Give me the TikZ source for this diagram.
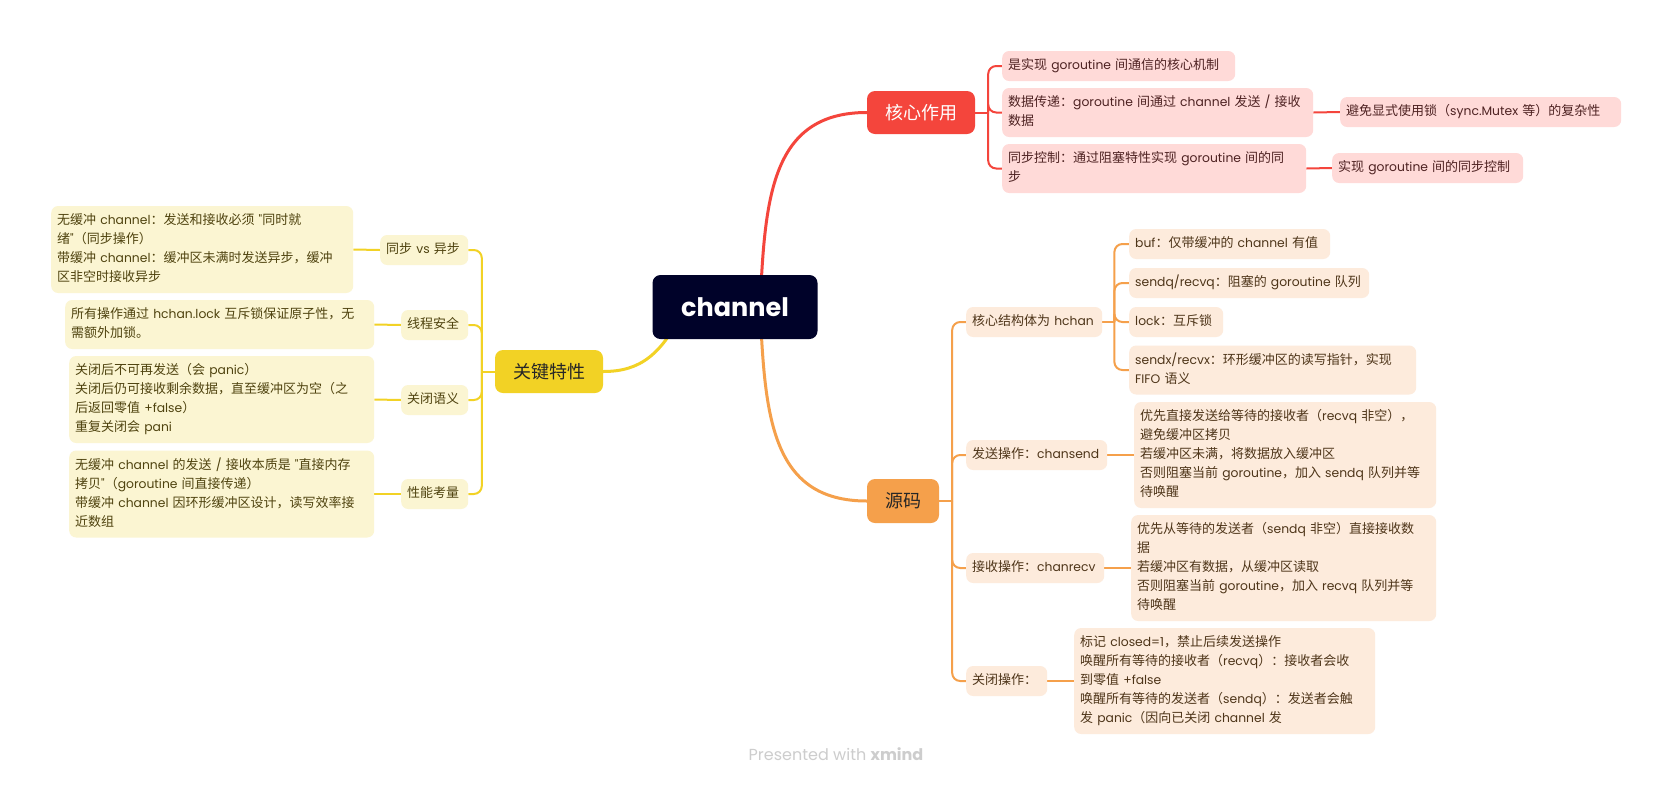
\documentclass[tikz,border=0pt]{standalone}
\usepackage{fontspec}
\setmainfont{Poppins}[Scale=0.95]
\newfontfamily\latfam{Poppins}[Scale=0.95]
\newfontfamily\cjkfam{Noto Sans CJK SC}
\newfontfamily\popfont{Poppins}
% switch to the CJK font for CJK characters
\newcount\cjkcc
\cjkcc="4E00 \loop \XeTeXcharclass\cjkcc=1 \advance\cjkcc 1 \ifnum\cjkcc<"A000 \repeat
\cjkcc="3000 \loop \XeTeXcharclass\cjkcc=1 \advance\cjkcc 1 \ifnum\cjkcc<"3040 \repeat
\cjkcc="FF00 \loop \XeTeXcharclass\cjkcc=1 \advance\cjkcc 1 \ifnum\cjkcc<"FFF0 \repeat
\XeTeXinterchartokenstate=1
\XeTeXinterchartoks 0 1 = {\cjkfam}
\XeTeXinterchartoks 4095 1 = {\cjkfam}
\XeTeXinterchartoks 1 0 = {\latfam}
\XeTeXinterchartoks 1 4095 = {\latfam}
\usetikzlibrary{calc,backgrounds}
\definecolor{navy}{HTML}{000229}
\definecolor{rmain}{HTML}{F4453C}
\definecolor{omain}{HTML}{F5A04B}
\definecolor{ymain}{HTML}{F2D225}
\definecolor{rfill}{HTML}{FFDAD8}
\definecolor{ofill}{HTML}{FDEBDC}
\definecolor{yfill}{HTML}{FBF5D2}
\definecolor{rtext}{HTML}{4E2222}
\definecolor{otext}{HTML}{4E3519}
\definecolor{ytext}{HTML}{4F430F}
\definecolor{wmark}{HTML}{CDCDCD}
\newcommand{\mytab}[1]{\begin{tabular}{@{}l@{}}#1\end{tabular}}
\tikzset{
  base/.style={rounded corners=7pt, inner xsep=6pt, inner ysep=5.5pt,
    font=\fontsize{13}{19}\selectfont, align=left, anchor=west},
  rleaf/.style={base, fill=rfill, text=rtext},
  oleaf/.style={base, fill=ofill, text=otext},
  yleaf/.style={base, fill=yfill, text=ytext},
  mainbox/.style={rounded corners=8pt, inner sep=0pt, font=\fontsize{18}{20}\selectfont},
  rsub/.style={draw=rmain, line width=2pt},
  osub/.style={draw=omain, line width=2pt},
  ysub/.style={draw=ymain, line width=2pt},
}
\begin{document}
\begin{tikzpicture}[x=1pt,y=-1pt]
\useasboundingbox (0,0) rectangle (1672,785);
% central and main branches
\node[mainbox, fill=navy, text=white, minimum width=165pt, minimum height=64pt,
  font=\popfont\bfseries\fontsize{25.5}{28}\selectfont] (ch) at (735,307) {channel};
\node[mainbox, fill=rmain, text=white, minimum width=108pt, minimum height=43pt] (core) at (921,112.5) {核心作用};
\node[mainbox, fill=omain, text=black!85, minimum width=72pt, minimum height=44pt] (src) at (903,501) {源码};
\node[mainbox, fill=ymain, text=black!85, minimum width=108pt, minimum height=43pt] (feat) at (549,371.5) {关键特性};

% red branch
\node[rleaf, text width=221pt] (r1) at (1002,66) {\mytab{是实现 goroutine 间通信的核心机制}};
\node[rleaf, text width=299pt] (r2) at (1002,112.5) {\mytab{数据传递：goroutine 间通过 channel 发送 / 接收\\数据}};
\node[rleaf, text width=292pt] (r3) at (1002,168.5) {\mytab{同步控制：通过阻塞特性实现 goroutine 间的同\\步}};
\node[rleaf, text width=269pt] (r4) at (1340,112) {\mytab{避免显式使用锁（sync.Mutex 等）的复杂性}};
\node[rleaf, text width=179pt] (r5) at (1332,168) {\mytab{实现 goroutine 间的同步控制}};

% orange branch
\node[oleaf, text width=124pt] (o1) at (966,322) {\mytab{核心结构体为 hchan}};
\node[oleaf, text width=189pt] (o11) at (1129,244) {\mytab{buf：仅带缓冲的 channel 有值}};
\node[oleaf, text width=228pt] (o12) at (1129,283) {\mytab{sendq/recvq：阻塞的 goroutine 队列}};
\node[oleaf, text width=82pt] (o13) at (1129,322) {\mytab{lock：互斥锁}};
\node[oleaf, text width=275pt] (o14) at (1129,370) {\mytab{sendx/recvx：环形缓冲区的读写指针，实现\\FIFO 语义}};
\node[oleaf, text width=129pt] (o2) at (966,455) {\mytab{发送操作：chansend}};
\node[oleaf, text width=290pt] (o21) at (1134,455) {\mytab{优先直接发送给等待的接收者（recvq 非空），\\避免缓冲区拷贝\\若缓冲区未满，将数据放入缓冲区\\否则阻塞当前 goroutine，加入 sendq 队列并等\\待唤醒}};
\node[oleaf, text width=126pt] (o3) at (966,568) {\mytab{接收操作：chanrecv}};
\node[oleaf, text width=293pt] (o31) at (1131,568) {\mytab{优先从等待的发送者（sendq 非空）直接接收数\\据\\若缓冲区有数据，从缓冲区读取\\否则阻塞当前 goroutine，加入 recvq 队列并等\\待唤醒}};
\node[oleaf, text width=69pt] (o4) at (966,681) {\mytab{关闭操作：}};
\node[oleaf, text width=289pt] (o41) at (1074,681) {\mytab{标记 closed=1，禁止后续发送操作\\唤醒所有等待的接收者（recvq）：接收者会收\\到零值 +false\\唤醒所有等待的发送者（sendq）：发送者会触\\发 panic（因向已关闭 channel 发}};

% yellow branch
\node[yleaf, text width=76pt] (y1) at (380,250) {\mytab{同步 vs 异步}};
\node[yleaf, text width=290pt] (y11) at (51,249.5) {\mytab{无缓冲 channel：发送和接收必须 "同时就\\绪"（同步操作）\\带缓冲 channel：缓冲区未满时发送异步，缓冲\\区非空时接收异步}};
\node[yleaf, text width=55pt] (y2) at (401,325) {\mytab{线程安全}};
\node[yleaf, text width=297pt] (y21) at (65,324.5) {\mytab{所有操作通过 hchan.lock 互斥锁保证原子性，无\\需额外加锁。}};
\node[yleaf, text width=55pt] (y3) at (401,400) {\mytab{关闭语义}};
\node[yleaf, text width=293pt] (y31) at (69,399.5) {\mytab{关闭后不可再发送（会 panic）\\关闭后仍可接收剩余数据，直至缓冲区为空（之\\后返回零值 +false）\\重复关闭会 pani}};
\node[yleaf, text width=55pt] (y4) at (401,494) {\mytab{性能考量}};
\node[yleaf, text width=293pt] (y41) at (69,494) {\mytab{无缓冲 channel 的发送 / 接收本质是 "直接内存\\拷贝"（goroutine 间直接传递）\\带缓冲 channel 因环形缓冲区设计，读写效率接\\近数组}};

\node[text=wmark, font=\popfont\fontsize{16}{18}\selectfont, inner sep=0pt] (pw) at (836,754) {Presented with \textbf{xmind}};

\begin{scope}[on background layer]
\fill[white] (0,0) rectangle (1672,785);
% main curves
\draw[draw=rmain, line width=3pt] ($(ch.center)+(25,0)$) .. controls (765,200) and (770,112.5) .. (core.west);
\draw[draw=omain, line width=3pt] ($(ch.center)+(25,0)$) .. controls (765,414) and (770,501) .. (src.west);
\draw[draw=ymain, line width=3pt] ($(ch.center)+(-50,0)$) .. controls (662,355) and (640,371.5) .. (feat.east);
% red subs
\coordinate (ct) at ($(core.east)+(13,0)$);
\draw[rsub] (core.east) -- (ct);
\foreach \c in {r1,r2,r3} \draw[rsub, rounded corners=8pt] (ct) |- (\c.west);
\draw[rsub] (r2.east) -- (r4.west);
\draw[rsub] (r3.east) -- (r5.west);
% orange subs
\coordinate (st) at ($(src.east)+(13,0)$);
\draw[osub] (src.east) -- (st);
\foreach \c in {o1,o2,o3,o4} \draw[osub, rounded corners=8pt] (st) |- (\c.west);
\coordinate (ht) at ($(o1.east)+(12,0)$);
\draw[osub] (o1.east) -- (ht);
\foreach \c in {o11,o12,o13,o14} \draw[osub, rounded corners=8pt] (ht) |- (\c.west);
\draw[osub] (o2.east) -- (o21.west);
\draw[osub] (o3.east) -- (o31.west);
\draw[osub] (o4.east) -- (o41.west);
% yellow subs
\coordinate (ft) at ($(feat.west)+(-13,0)$);
\draw[ysub] (feat.west) -- (ft);
\foreach \c in {y1,y2,y3,y4} \draw[ysub, rounded corners=8pt] (ft) |- (\c.east);
\draw[ysub] (y1.west) -- (y11.east);
\draw[ysub] (y2.west) -- (y21.east);
\draw[ysub] (y3.west) -- (y31.east);
\draw[ysub] (y4.west) -- (y41.east);
\end{scope}
\end{tikzpicture}
\end{document}
